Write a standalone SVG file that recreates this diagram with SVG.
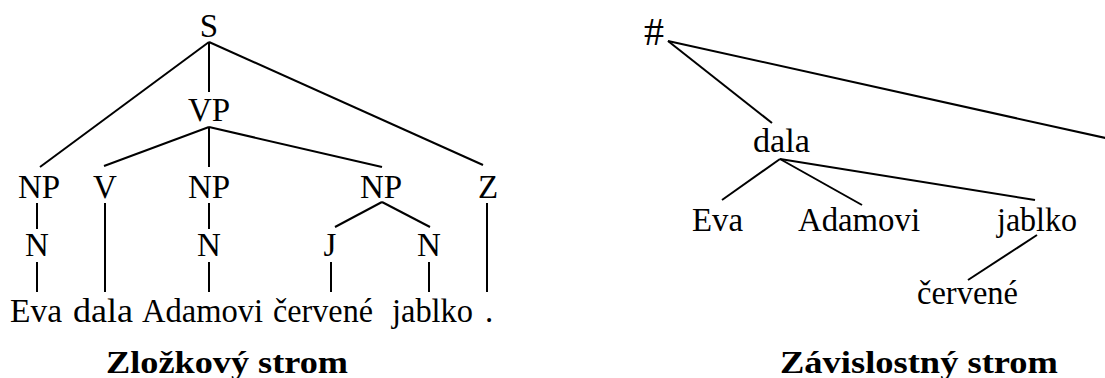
<svg xmlns="http://www.w3.org/2000/svg" width="1105" height="378" viewBox="0 0 1105 378">
<style>
text{font-family:"Liberation Serif","Times New Roman",serif;font-size:33px;fill:#000;text-anchor:middle}
text.w{text-anchor:start}
.title{font-weight:bold;font-size:32px}
#connectors line{stroke:#000;stroke-width:2;stroke-linecap:butt}
</style>
<rect width="1105" height="378" fill="#fff"/>
<g id="connectors">
<line x1="209" y1="42" x2="40" y2="167"/>
<line x1="209" y1="42" x2="209" y2="92"/>
<line x1="209" y1="42" x2="483" y2="165"/>
<line x1="209" y1="127" x2="104" y2="166"/>
<line x1="209" y1="127" x2="209" y2="167"/>
<line x1="209" y1="127" x2="382" y2="167"/>
<line x1="37" y1="203" x2="37" y2="229"/>
<line x1="37" y1="262" x2="37" y2="292"/>
<line x1="105" y1="203" x2="105" y2="292"/>
<line x1="209" y1="203" x2="209" y2="229"/>
<line x1="209" y1="262" x2="209" y2="292"/>
<line x1="382" y1="202" x2="335" y2="227"/>
<line x1="382" y1="202" x2="430" y2="227"/>
<line x1="331" y1="262" x2="331" y2="292"/>
<line x1="429" y1="262" x2="429" y2="292"/>
<line x1="487" y1="203" x2="487" y2="292"/>
<line x1="668" y1="41" x2="772" y2="123"/>
<line x1="668" y1="41" x2="1110" y2="139"/>
<line x1="780" y1="159" x2="722" y2="200"/>
<line x1="780" y1="159" x2="862" y2="205"/>
<line x1="780" y1="159" x2="1035" y2="200"/>
<line x1="1037" y1="235" x2="968" y2="280"/>
</g>
<g id="const-S"><text x="209" y="37">S</text></g>
<g id="const-VP"><text x="209" y="121">VP</text></g>
<g id="const-NP1"><text x="39" y="198">NP</text></g>
<g id="const-V"><text x="105" y="198">V</text></g>
<g id="const-NP2"><text x="209" y="198">NP</text></g>
<g id="const-NP3"><text x="381" y="198">NP</text></g>
<g id="const-Z"><text x="488" y="198">Z</text></g>
<g id="const-N1"><text x="37" y="256">N</text></g>
<g id="const-N2"><text x="209" y="256">N</text></g>
<g id="const-J"><text x="330" y="256">J</text></g>
<g id="const-N3"><text x="429" y="256">N</text></g>
<g id="word-Eva"><text class="w" x="10" y="322" textLength="52" lengthAdjust="spacingAndGlyphs">Eva</text></g>
<g id="word-dala"><text class="w" x="73" y="322" textLength="60" lengthAdjust="spacingAndGlyphs">dala</text></g>
<g id="word-Adamovi"><text class="w" x="142" y="322" textLength="121" lengthAdjust="spacingAndGlyphs">Adamovi</text></g>
<g id="word-cervene"><text class="w" x="273" y="322" textLength="100" lengthAdjust="spacingAndGlyphs">červené</text></g>
<g id="word-jablko"><text class="w" x="392" y="322" textLength="81" lengthAdjust="spacingAndGlyphs">jablko</text></g>
<g id="word-dot"><text x="489" y="322">.</text></g>
<g id="title-left"><text class="title" x="227" y="373" textLength="242" lengthAdjust="spacingAndGlyphs">Zložkový strom</text></g>
<g id="dep-root"><text x="654" y="45" style="font-size:40px">#</text></g>
<g id="dep-dala"><text class="w" x="753" y="152" textLength="57" lengthAdjust="spacingAndGlyphs">dala</text></g>
<g id="dep-Eva"><text class="w" x="692" y="231" textLength="51" lengthAdjust="spacingAndGlyphs">Eva</text></g>
<g id="dep-Adamovi"><text class="w" x="798" y="231" textLength="122" lengthAdjust="spacingAndGlyphs">Adamovi</text></g>
<g id="dep-jablko"><text class="w" x="997" y="231" textLength="80" lengthAdjust="spacingAndGlyphs">jablko</text></g>
<g id="dep-cervene"><text class="w" x="917" y="304" textLength="101" lengthAdjust="spacingAndGlyphs">červené</text></g>
<g id="title-right"><text class="title" x="919" y="373" textLength="278" lengthAdjust="spacingAndGlyphs">Závislostný strom</text></g>
</svg>
